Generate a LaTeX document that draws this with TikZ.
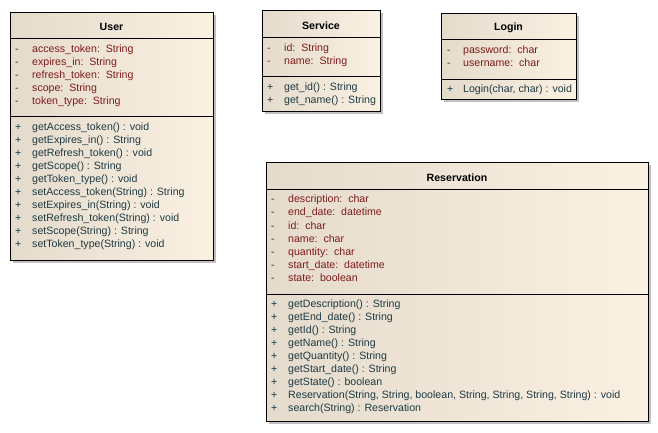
\documentclass[tikz,border=0pt]{standalone}
\usepackage{fontspec}
\setmainfont{Liberation Sans}
\usetikzlibrary{shadows}
\definecolor{boxleft}{HTML}{E4DBCD}
\definecolor{boxright}{HTML}{FBF1E3}
\definecolor{shadowgray}{HTML}{C0C0C0}
\definecolor{attrred}{HTML}{7F1A1A}
\definecolor{methteal}{HTML}{1E3A42}
\tikzset{
  classbox/.style={draw=black, line width=1pt, left color=boxleft, right color=boxright,
    anchor=north west, inner sep=0pt, outer sep=0pt,
    drop shadow={shadow xshift=3pt, shadow yshift=-3pt, fill=shadowgray, opacity=1}},
  sepline/.style={line width=1pt, draw=black},
  txt/.style={anchor=west, inner sep=0pt, yshift=-1pt, text height=8pt, text depth=2.5pt, font=\fontsize{10.6}{13}\selectfont},
  attr/.style={txt, text=attrred},
  meth/.style={txt, text=methteal},
  ctitle/.style={inner sep=0pt, yshift=-1pt, text height=8pt, text depth=2.5pt, font=\fontsize{10.6}{13}\selectfont\bfseries, text=black}
}
\begin{document}
\begin{tikzpicture}[x=1pt,y=-1pt]
\useasboundingbox (0,0) rectangle (658,432);

% ---------- User ----------
\node[classbox, minimum width=203, minimum height=248] (user) at (10,12) {};
\draw[sepline] (10,38) -- (214,38);
\draw[sepline] (10,116) -- (214,116);
\node[ctitle] (usertitle) at (111.5,27) {User};
\foreach \t [count=\i from 0] in {access\_token:\ \ String, expires\_in:\ \ String, refresh\_token:\ \ String, scope:\ \ String, token\_type:\ \ String}{
  \node[attr] (uav\i) at (15,49+13*\i) {-};
  \node[attr] (ua\i) at (32,49+13*\i) {\t};
}
\foreach \t [count=\i from 0] in {getAccess\_token() : void, getExpires\_in() : String, getRefresh\_token() : void, getScope() : String, getToken\_type() : void, setAccess\_token(String) : String, setExpires\_in(String) : void, setRefresh\_token(String) : void, setScope(String) : String, setToken\_type(String) : void}{
  \node[meth] (umv\i) at (15,127+13*\i) {+};
  \node[meth] (um\i) at (32,127+13*\i) {\t};
}

% ---------- Service ----------
\node[classbox, minimum width=118, minimum height=101] (service) at (262,10) {};
\draw[sepline] (262,37) -- (381,37);
\draw[sepline] (262,76) -- (381,76);
\node[ctitle] (servicetitle) at (321,26) {Service};
\foreach \t [count=\i from 0] in {id:\ \ String, name:\ \ String}{
  \node[attr] (sav\i) at (267,48+13*\i) {-};
  \node[attr] (sa\i) at (284,48+13*\i) {\t};
}
\foreach \t [count=\i from 0] in {get\_id() : String, get\_name() : String}{
  \node[meth] (smv\i) at (267,87+13*\i) {+};
  \node[meth] (sm\i) at (284,87+13*\i) {\t};
}

% ---------- Login ----------
\node[classbox, minimum width=135, minimum height=86] (login) at (441,13) {};
\draw[sepline] (441,39) -- (577,39);
\draw[sepline] (441,79) -- (577,79);
\node[ctitle] (logintitle) at (508.5,27) {Login};
\foreach \t [count=\i from 0] in {password:\ \ char, username:\ \ char}{
  \node[attr] (lav\i) at (447,50+12.5*\i) {-};
  \node[attr] (la\i) at (463,50+12.5*\i) {\t};
}
\node[meth] (lmv0) at (447,89) {+};
\node[meth] (lm0) at (463,89) {Login(char, char) : void};

% ---------- Reservation ----------
\node[classbox, minimum width=382, minimum height=259] (res) at (266,162) {};
\draw[sepline] (266,189) -- (649,189);
\draw[sepline] (266,294) -- (649,294);
\node[ctitle] (restitle) at (457,178) {Reservation};
\foreach \t [count=\i from 0] in {description:\ \ char, end\_date:\ \ datetime, id:\ \ char, name:\ \ char, quantity:\ \ char, start\_date:\ \ datetime, state:\ \ boolean}{
  \node[attr] (rav\i) at (271,199+13.15*\i) {-};
  \node[attr] (ra\i) at (288,199+13.15*\i) {\t};
}
\foreach \t [count=\i from 0] in {getDescription() : String, getEnd\_date() : String, getId() : String, getName() : String, getQuantity() : String, getStart\_date() : String, getState() : boolean, {Reservation(String, String, boolean, String, String, String, String) : void}, search(String) : Reservation}{
  \node[meth] (rmv\i) at (271,304+13*\i) {+};
  \node[meth] (rm\i) at (288,304+13*\i) {\t};
}
\end{tikzpicture}
\end{document}
